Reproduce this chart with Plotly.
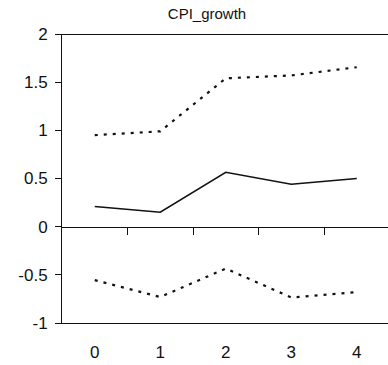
import plotly.graph_objects as go

# Impulse response of CPI growth with upper/lower confidence bands
periods = [0, 1, 2, 3, 4]
response = [0.21, 0.15, 0.565, 0.44, 0.50]
upper_band = [0.95, 0.99, 1.54, 1.57, 1.655]
lower_band = [-0.555, -0.73, -0.435, -0.735, -0.68]

y_ticks = [-1, -0.5, 0, 0.5, 1, 1.5, 2]
y_tick_text = ["-1", "-0.5", "0", "0.5", "1", "1.5", "2"]
boundary_ticks = [0.5, 1.5, 2.5, 3.5]

W, H = 388, 365
ML, MR, MT, MB = 62, 0, 34, 42
step = 65.5
x_range = [-0.5, -0.5 + (W - ML - MR) / step]

FONT = "Liberation Sans, Arial, sans-serif"
INK = "#111111"
tick_font = dict(family=FONT, size=17, color=INK)

fig = go.Figure()

dot_style = dict(color=INK, width=2.2, dash="3px,6px")
fig.add_trace(go.Scatter(x=periods, y=upper_band, mode="lines",
                         line=dot_style, xaxis="x3"))
fig.add_trace(go.Scatter(x=periods, y=lower_band, mode="lines",
                         line=dot_style))
fig.add_trace(go.Scatter(x=periods, y=response, mode="lines",
                         line=dict(color=INK, width=1.6), xaxis="x2"))

fig.update_layout(
    width=W, height=H,
    margin=dict(l=ML, r=MR, t=MT, b=MB, pad=0),
    paper_bgcolor="white", plot_bgcolor="white",
    showlegend=False,
    title=dict(text="CPI_growth", x=207 / W, xref="container", xanchor="center",
               y=1 - 14 / H, yref="container", yanchor="middle",
               font=dict(family=FONT, size=15, color=INK)),
    # bottom frame line with period labels
    xaxis=dict(range=x_range, tickvals=periods, ticktext=[str(p) for p in periods],
               showgrid=False, zeroline=False, showline=True, linecolor=INK,
               linewidth=1, ticks="", ticklabelstandoff=14, tickfont=tick_font),
    # axis through y = 0 with ticks between periods
    xaxis2=dict(range=x_range, overlaying="x", anchor="free", position=1 / 3,
                tickvals=boundary_ticks, showticklabels=False, ticks="outside",
                ticklen=7, tickcolor=INK, tickwidth=1, showline=True,
                linecolor=INK, linewidth=1, showgrid=False, zeroline=False),
    # top frame line
    xaxis3=dict(range=x_range, overlaying="x", anchor="free", position=1,
                side="top", showticklabels=False, ticks="", showline=True,
                linecolor=INK, linewidth=1, showgrid=False, zeroline=False),
    yaxis=dict(range=[-1, 2], tickvals=y_ticks, ticktext=y_tick_text,
               showgrid=False, zeroline=False, showline=True, linecolor=INK,
               linewidth=1, ticks="outside", ticklen=6, tickcolor=INK,
               ticklabelstandoff=4, tickfont=tick_font),
)

fig.write_html("out.html")
